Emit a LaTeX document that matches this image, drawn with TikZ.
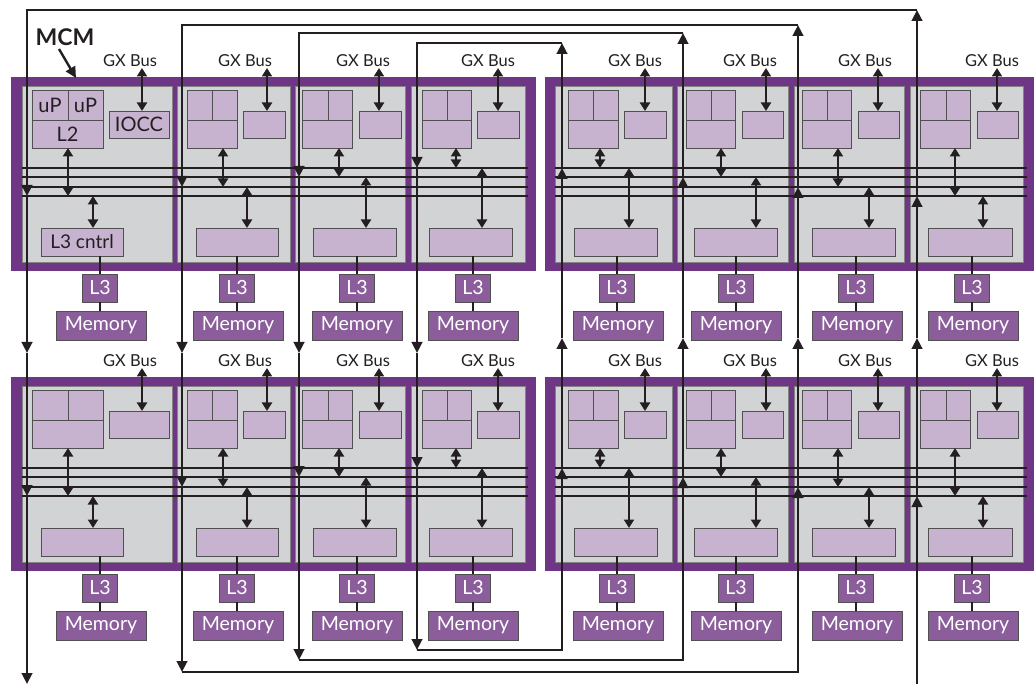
\documentclass[tikz,border=0pt]{standalone}
\usepackage{fontspec}
\setmainfont{Lato}
\usetikzlibrary{arrows.meta}
\definecolor{mcm}{RGB}{112,54,134}
\definecolor{chipg}{RGB}{209,211,212}
\definecolor{lp}{RGB}{199,179,208}
\definecolor{mp}{RGB}{139,94,155}
\definecolor{ink}{RGB}{35,31,32}
\definecolor{edge}{RGB}{80,80,80}
\tikzset{
  tip/.style={-{Triangle[length=11pt,width=10.5pt]}},
  dtip/.style={{Triangle[length=8.5pt,width=10pt]}-{Triangle[length=8.5pt,width=10pt]}},
  ring/.style={ink, line width=2.6pt},
  cwire/.style={ink, line width=2.4pt},
  busline/.style={ink, line width=1.1pt},
  lbox/.style={fill=lp, draw=edge, line width=0.9pt, inner sep=0pt, outer sep=0pt},
  mbox/.style={fill=mp, draw=edge, line width=0.9pt, inner sep=0pt, outer sep=0pt,
               text=white, font=\fontsize{19.5}{19.5}\selectfont},
  chipbox/.style={fill=chipg, draw=edge!70, line width=0.8pt},
  gxlab/.style={font=\fontsize{16.5}{16.5}\selectfont, text=ink, inner sep=0pt},
  blab/.style={font=\fontsize{20}{20}\selectfont, text=ink, inner sep=0pt},
}
\begin{document}
\begin{tikzpicture}[x=1pt,y=-1pt]
\useasboundingbox (0,0) rectangle (1036,684);
\foreach \r/\oy in {0/0,1/300}{
\begin{scope}[yshift={-\oy pt}]
  \fill[mcm] (11,77) rectangle (536,271);
  \fill[mcm] (545,77) rectangle (1034,271);
  \foreach \n/\L/\R/\ul/\ur/\us/\il/\ir/\gx/\lb/\ua/\la/\by/\cl/\cr/\lx/\ml/\mr in {
    1/22/172/32/103/68/109/169/142/130/68/93/196/41/123/100/56/146,
    2/177/290/187/237/212/243/285/267/245/223/247/187/196/278/237/193/283,
    3/295/405/302/352/328/359/401/379/363/339/366/177/313/396/357/312/402,
    4/411/525/422/471/447/477/519/498/488/456/482/168/429/512/473/428/518,
    5/555/672/568/618/593/624/666/645/635/600/629/168/574/657/617/573/663,
    6/677/788/686/735/711/742/783/766/750/721/756/177/694/777/736/691/781,
    7/794/904/802/851/827/858/899/878/865/838/869/187/812/895/856/812/902,
    8/910/1023/920/970/946/977/1018/997/992/955/983/196/928/1012/972/928/1018}{
    \draw[chipbox] (\L,86) rectangle (\R,262);
    % processor block: uP | uP / L2
    \node[lbox, anchor=north west, minimum width={(\ur-\ul)*1pt}, minimum height=58pt] (up\r\n) at (\ul,90) {};
    \draw[edge, line width=0.9pt] (up\r\n.west |- 0,120) -- (up\r\n.east |- 0,120);
    \draw[edge, line width=0.9pt] (\us,90) -- (\us,120);
    % IOCC
    \node[lbox, anchor=north west, minimum width={(\ir-\il)*1pt}, minimum height=27pt] (io\r\n) at (\il,111) {};
    % L3 controller
    \node[lbox, anchor=north west, minimum width={(\cr-\cl)*1pt}, minimum height=28pt] (l3c\r\n) at (\cl,228) {};
    % L3 and memory
    \node[mbox, anchor=north, minimum width=35pt, minimum height=28pt] (l3\r\n) at (\lx,274) {L3};
    \node[mbox, anchor=north west, minimum width={(\mr-\ml)*1pt}, minimum height=29pt] (mem\r\n) at (\ml,311) {Memory};
    \draw[cwire] (l3c\r\n.south -| \lx,0) -- (l3\r\n.north);
    \draw[cwire] (l3\r\n.south) -- (mem\r\n.north -| \lx,0);
    % GX bus
    \node[gxlab] (gx\r\n) at (\lb,61) {GX Bus};
    \coordinate (gxt\r\n) at (\gx,68);
    \draw[cwire,dtip] (gxt\r\n) -- (io\r\n.north -| \gx,0);
    % fabric connections
    \coordinate (bu\r\n) at (\ua,\by);
    \coordinate (bl\r\n) at (\la,\by);
    \draw[cwire,dtip] (up\r\n.south -| \ua,0) -- (bu\r\n);
    \draw[cwire,dtip] (bl\r\n) -- (l3c\r\n.north -| \la,0);
  }
  \foreach \y in {168,177,187,196}{
    \draw[busline] (22,\y) -- (528,\y);
    \draw[busline] (555,\y) -- (1027,\y);
  }
\end{scope}
}
% labels of the first chip
\node[blab] (tup1) at (50,105) {uP};
\node[blab] (tup2) at (85.5,105) {uP};
\node[blab] (tl2) at (67.5,134) {L2};
\node[blab] (tio) at (io01.center) {IOCC};
\node[blab, font=\fontsize{19}{19}\selectfont] (tl3c) at (l3c01.center) {L3 cntrl};
% MCM label
\node[font=\bfseries\fontsize{23}{23}\selectfont, text=ink, inner sep=0pt] (mcmlab) at (65,37) {MCM};
\coordinate (mcmtip) at (76,78);
\draw[cwire,tip] (59,49) -- (mcmtip);
% inter-MCM rings
\foreach \X/\Rx/\T/\B/\b in {27/917/10/684/196, 182/798/25/672/187, 299/683/33/660/177, 417/562/43/650/168}{
  \coordinate (lt\X) at (\X,\T);
  \coordinate (rt\X) at (\Rx,\T);
  \draw[ring,tip] (rt\X) -- (lt\X) -- (\X,\b);
  \draw[ring,tip] (\X,\b) -- (\X,353);
  \draw[ring,tip] (\X,353) -- (\X,{\b+300});
  \draw[ring,tip] (\Rx,{\b+300}) -- (\Rx,338);
  \draw[ring,tip] (\Rx,338) -- (\Rx,\b);
  \draw[ring,tip] (\Rx,\b) -- (rt\X);
}
\foreach \X/\Rx/\B/\b in {182/798/672/187, 299/683/660/177, 417/562/650/168}{
  \coordinate (lb\X) at (\X,\B);
  \coordinate (rb\X) at (\Rx,\B);
  \draw[ring,tip] (\X,{\b+300}) -- (lb\X);
  \draw[ring,tip] (lb\X) -- (rb\X) -- (\Rx,{\b+300});
}
\coordinate (endl) at (27,684);
\coordinate (endr) at (917,684);
\draw[ring,tip] (27,496) -- (endl);
\draw[ring,tip] (endr) -- (917,496);
\end{tikzpicture}
\end{document}
